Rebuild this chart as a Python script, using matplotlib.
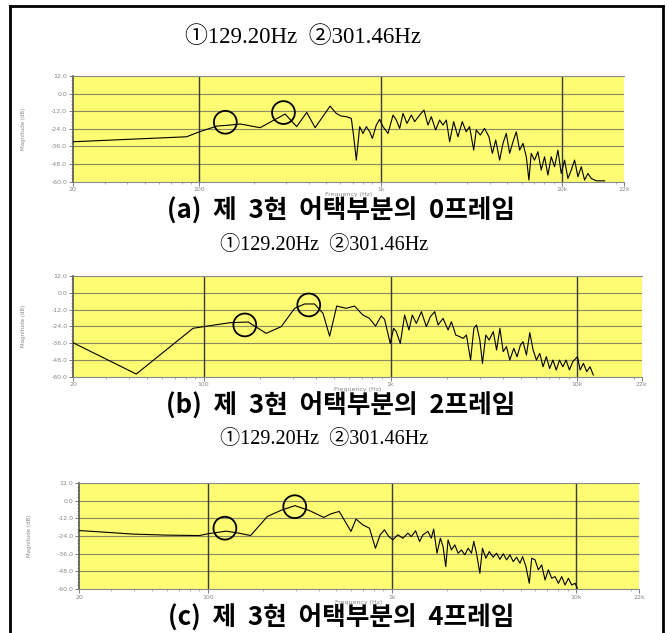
import matplotlib
matplotlib.use("Agg")
import matplotlib.pyplot as plt
from matplotlib.lines import Line2D
from matplotlib.ticker import FixedLocator, LogLocator, NullFormatter, AutoMinorLocator


# Spectrum of frame 0
freq_a = [20, 85, 100, 125, 148, 168, 216, 297, 344, 391, 435, 526, 569, 607, 647, 689,
          710, 734, 766, 799, 834, 870, 900, 946, 987, 1030, 1098, 1170, 1220, 1273, 1328,
          1397, 1476, 1540, 1641, 1734, 1824, 1903, 2010, 2115, 2206, 2302, 2402, 2527,
          2668, 2820, 2964, 3093, 3260, 3367, 3546, 3741, 3958, 4133, 4312, 4532, 4728,
          4932, 5146, 5369, 5601, 5844, 6097, 6361, 6575, 6769, 7062, 7368, 7687, 8020,
          8367, 8730, 9107, 9502, 9913, 10342, 10790, 11257, 11745, 12254, 12784, 13338,
          13916, 14518, 15465, 17195]
mag_a = [-32.8, -29.4, -26.0, -22.1, -21.4, -20.7, -23.2, -13.9, -22.5, -12.8, -23.2, -8.5,
         -13.5, -15.3, -15.7, -16.9, -29.4, -45.3, -22.5, -27.1, -22.5, -26.0, -30.5, -21.4,
         -17.5, -22.5, -27.1, -14.6, -18.0, -23.7, -13.5, -20.3, -14.6, -19.1, -14.6, -11.2,
         -21.4, -15.7, -24.8, -18.0, -21.4, -18.0, -32.8, -19.1, -29.4, -19.1, -26.0, -22.5,
         -38.5, -24.8, -28.2, -23.7, -29.4, -40.7, -31.6, -45.3, -33.9, -27.1, -40.7, -32.8,
         -26.0, -38.5, -33.9, -43.0, -58.9, -40.7, -45.3, -39.6, -52.1, -43.0, -55.5, -43.0,
         -49.8, -38.5, -54.4, -45.3, -57.8, -52.1, -45.3, -56.6, -49.8, -58.9, -54.4, -57.8,
         -59.4, -59.4]

# Spectrum of frame 2
freq_b = [20, 43.6, 87.7, 100, 138, 173, 216, 260, 307, 347, 392, 435, 472, 490, 515, 578,
          641, 711, 771, 831, 891, 929, 996, 1038, 1073, 1127, 1189, 1254, 1307, 1373, 1461,
          1554, 1632, 1722, 1795, 1909, 2031, 2116, 2233, 2347, 2443, 2547, 2679, 2791, 2883,
          3003, 3102, 3233, 3367, 3544, 3692, 3845, 4004, 4170, 4343, 4563, 4752, 4949, 5114,
          5331, 5556, 5786, 6031, 6281, 6541, 6812, 7094, 7388, 7694, 8013, 8345, 8691, 9051,
          9426, 10000, 10330, 10758, 11204, 11669, 12152]
mag_b = [-35.7, -58.1, -25.4, -24.2, -21.4, -20.9, -29.0, -24.2, -11.1, -8.0, -8.0, -14.7,
         -31.0, -21.9, -9.5, -11.1, -9.5, -15.9, -18.3, -23.8, -16.6, -19.0, -36.2, -25.4,
         -27.8, -36.2, -15.9, -26.6, -15.9, -21.9, -13.5, -24.2, -17.1, -13.5, -23.0, -18.3,
         -26.6, -20.7, -30.2, -31.4, -32.6, -30.2, -48.1, -25.4, -23.0, -33.8, -50.5, -30.2,
         -33.8, -27.8, -40.9, -25.4, -42.1, -38.5, -48.1, -39.7, -45.7, -37.4, -35.0, -44.5,
         -28.5, -40.9, -48.1, -43.3, -52.9, -45.7, -54.1, -48.1, -55.2, -48.1, -52.9, -48.1,
         -55.2, -49.3, -45.7, -55.2, -50.5, -56.4, -52.9, -58.8]

# Spectrum of frame 4
freq_c = [20, 26, 39.3, 59.6, 90.2, 100, 126, 148, 171, 211, 254, 298, 355, 427, 465, 518,
          600, 639, 695, 756, 815, 864, 912, 963, 1013, 1078, 1148, 1223, 1275, 1346, 1415,
          1476, 1571, 1638, 1688, 1759, 1835, 1898, 1963, 2020, 2107, 2197, 2291, 2389, 2491,
          2597, 2708, 2787, 2883, 3006, 3106, 3243, 3381, 3551, 3706, 3864, 4028, 4201, 4380,
          4567, 4761, 4964, 5132, 5351, 5579, 5750, 5995, 6250, 6516, 6794, 7083, 7385, 7700,
          8028, 8370, 8726, 9098, 9486, 9890, 10170]
mag_c = [-20.3, -21.2, -22.7, -23.4, -23.7, -22.5, -20.7, -22.1, -23.7, -10.7, -6.2, -3.4,
         -6.6, -11.4, -9.0, -7.3, -20.9, -12.5, -16.4, -18.7, -32.3, -23.2, -19.8, -24.4,
         -26.6, -23.2, -25.5, -22.1, -24.4, -20.5, -27.7, -23.2, -20.9, -25.5, -19.3, -35.7,
         -25.5, -31.2, -44.8, -26.6, -33.5, -30.0, -35.7, -33.5, -36.8, -32.3, -35.7, -27.7,
         -35.7, -49.3, -32.3, -39.1, -34.6, -38.4, -35.7, -39.8, -36.1, -40.2, -36.8, -41.4,
         -38.4, -42.5, -38.0, -44.8, -56.1, -39.1, -40.2, -47.0, -43.6, -53.9, -47.0, -52.7,
         -51.6, -56.1, -51.6, -57.3, -52.7, -57.3, -56.1, -59.5]

# circled peaks (position as drawn)
circle_freq_a = [139, 291]
circle_mag_a = [-19.5, -12.9]
circle_freq_b = [166, 365]
circle_mag_b = [-23.0, -8.7]
circle_freq_c = [124, 297]
circle_mag_c = [-18.7, -4.1]

peak_text = "\u2460129.20Hz  \u2461301.46Hz"
captions = ["(a)  제  3현  어택부분의  0프레임",
            "(b)  제  3현  어택부분의  2프레임",
            "(c)  제  3현  어택부분의  4프레임"]

y_ticks = [12, 0, -12, -24, -36, -48, -60]
y_tick_labels = ["12.0", "0.0", "-12.0", "-24.0", "-36.0", "-48.0", "-60.0"]
x_ticks = [20, 100, 1000, 10000, 22000]
x_tick_labels = ["20", "100", "1k", "10k", "22k"]

W, H = 669, 633
fig = plt.figure(figsize=(W / 100, H / 100), dpi=100)


def px_axes(left, top, right, bottom):
    return fig.add_axes([left / W, 1 - bottom / H, (right - left) / W, (bottom - top) / H])


def draw_panel(ax, freq, mag, cf, cm):
    ax.set_facecolor("#fdfc72")
    ax.set_xscale("log")
    ax.set_xlim(20, 22000)
    ax.set_ylim(-60, 12)
    for y in y_ticks[1:-1]:
        ax.axhline(y, color="#8a8a60", lw=0.8, zorder=1)
    for x in [100, 1000, 10000]:
        ax.axvline(x, color="#3a3a3a", lw=1.0, zorder=1)
    ax.plot(freq, mag, color="black", lw=0.8, zorder=3)
    ax.scatter(cf, cm, s=270, facecolors="none", edgecolors="black", linewidths=1.3, zorder=4)

    ax.set_yticks(y_ticks)
    ax.set_yticklabels(y_tick_labels)
    ax.yaxis.set_minor_locator(AutoMinorLocator(5))
    ax.xaxis.set_major_locator(FixedLocator(x_ticks))
    ax.set_xticklabels(x_tick_labels)
    ax.xaxis.set_minor_locator(LogLocator(base=10, subs=range(2, 10)))
    ax.xaxis.set_minor_formatter(NullFormatter())
    ax.tick_params(axis="both", which="major", labelsize=4.5, labelcolor="#888888",
                   color="#666666", length=3, width=0.6, pad=1)
    ax.tick_params(axis="both", which="minor", color="#888888", length=1.5, width=0.5)
    ax.set_xlabel("Frequency (Hz)", fontsize=4.5, color="#888888", labelpad=0)
    ax.set_ylabel("Magnitude (dB)", fontsize=4, color="#888888", labelpad=18)
    for side in ["top", "bottom"]:
        ax.spines[side].set_color("#8a8a8a")
        ax.spines[side].set_linewidth(0.8)
    ax.spines["left"].set_color("#555555")
    ax.spines["left"].set_linewidth(1.2)
    ax.spines["right"].set_visible(False)


ax_a = px_axes(72.7, 76, 624, 181.7)
draw_panel(ax_a, freq_a, mag_a, circle_freq_a, circle_mag_a)
ax_b = px_axes(73, 276, 641.5, 376.7)
draw_panel(ax_b, freq_b, mag_b, circle_freq_b, circle_mag_b)
ax_c = px_axes(79, 483, 639, 589)
draw_panel(ax_c, freq_c, mag_c, circle_freq_c, circle_mag_c)

serif = ["Liberation Serif", "Noto Sans CJK KR"]
fig.text(303 / W, 1 - 37 / H, peak_text, fontsize=16.5, family=serif, ha="center", va="center")
fig.text(324 / W, 1 - 245 / H, peak_text, fontsize=14.5, family=serif, ha="center", va="center")
fig.text(324 / W, 1 - 440 / H, peak_text, fontsize=14.5, family=serif, ha="center", va="center")

cap_y = [211, 406, 618]
for cap, yy in zip(captions, cap_y):
    fig.text(341 / W, 1 - yy / H, cap, fontsize=18.5, family="Noto Sans CJK KR", ha="center",
             va="center", fontweight="bold")

# page frame
for xs, ys in [([9.5, 9.5], [633, 5.5]), ([9.5, 663], [5.5, 5.5]), ([663, 663], [5.5, 633])]:
    fig.add_artist(Line2D([x / W for x in xs], [1 - y / H for y in ys], color="black", lw=2))

fig.savefig("out.png", dpi=100)
